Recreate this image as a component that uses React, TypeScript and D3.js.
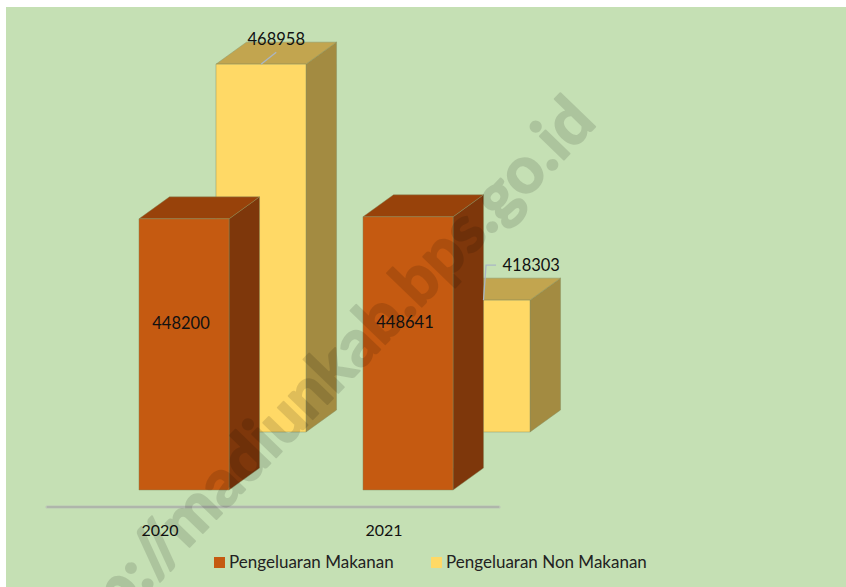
import React from 'react';
import * as d3 from 'd3';

// data
const years = ['2020', '2021'];
const seriesNames = ['Pengeluaran Makanan', 'Pengeluaran Non Makanan'];
const makanan = [448200, 448641];
const nonMakanan = [468958, 418303];
const seriesValues = [makanan, nonMakanan];
const watermark = 'http://madiunkab.bps.go.id';

const W = 846;
const H = 587;
const FONT = 'Lato, "Open Sans", sans-serif';

// 3d look
const depth = { dx: 30.5, dy: -22 };
const rowShift = { dx: 77, dy: -58 };

const palette = [
  { front: '#c55a11', top: '#98420a', side: '#7e370b' },
  { front: '#ffd966', top: '#c2a54f', side: '#a38b41' },
];

function App() {
  const x = d3.scaleBand<string>()
    .domain(years)
    .range([72, 520])
    .paddingInner(0.598)
    .paddingOuter(0.299);
  const row = d3.scalePoint<string>().domain(seriesNames).range([0, 1]);
  const y = d3.scaleLinear().domain([390000, 470000]).range([490, 490 - 372.7]);
  const bw = x.bandwidth();

  const poly = (pts: number[][]) => 'M' + pts.map(p => p.join(',')).join('L') + 'Z';

  // back row first so the front row covers it
  const order = seriesNames.map((_, i) => i).reverse();

  const bars = order.map(si => {
    const r = row(seriesNames[si]) as number;
    const c = palette[si];
    return (
      <g key={si}>
        {years.map((yr, j) => {
          const rx = (x(yr) as number) + r * rowShift.dx;
          const base = y(390000) + r * rowShift.dy;
          const top = y(seriesValues[si][j]) + r * rowShift.dy;
          const { dx, dy } = depth;
          return (
            <g key={yr} stroke="rgba(130,140,95,0.55)" strokeWidth={0.8} strokeLinejoin="round">
              <path d={poly([[rx + bw, top], [rx + bw + dx, top + dy], [rx + bw + dx, base + dy], [rx + bw, base]])} fill={c.side} />
              <path d={poly([[rx, top], [rx + dx, top + dy], [rx + bw + dx, top + dy], [rx + bw, top]])} fill={c.top} />
              <rect x={rx} y={top} width={bw} height={base - top} fill={c.front} />
            </g>
          );
        })}
      </g>
    );
  });

  // data labels
  const labels = years.flatMap((yr, j) => {
    const out: React.ReactNode[] = [];
    const x0 = x(yr) as number;
    // front series: inside bar
    const t0 = y(makanan[j]);
    out.push(
      <text key={'m' + yr} x={x0 + bw / 2 - 3} y={(t0 + y(390000) + rowShift.dy) / 2 + 4}
        textAnchor="middle" fontFamily={FONT} fontSize={16.5} fill="#111">
        {makanan[j]}
      </text>
    );
    // back series: above the top face with a leader
    const rx = x0 + rowShift.dx;
    const t1 = y(nonMakanan[j]) + rowShift.dy;
    const backTop = t1 + depth.dy;
    const hidden = t0 < t1;
    if (!hidden) {
      const cx = rx + bw / 2 + depth.dx / 2;
      out.push(
        <line key={'l' + yr} x1={rx + bw / 2} y1={t1} x2={cx} y2={backTop + 10} stroke="#aab6c4" strokeWidth={1.3} />,
        <text key={'n' + yr} x={cx} y={backTop + 3} textAnchor="middle" fontFamily={FONT} fontSize={16.5} fill="#111">
          {nonMakanan[j]}
        </text>
      );
    } else {
      const ex = x0 + bw + depth.dx;
      const ty = backTop - 7;
      out.push(
        <path key={'l' + yr} d={`M${ex},${t1}L${ex + 2.5},${ty - 6}L${ex + 12.5},${ty - 6}`} fill="none" stroke="#aab6c4" strokeWidth={1.3} />,
        <text key={'n' + yr} x={ex + 19} y={ty} fontFamily={FONT} fontSize={16.5} fill="#111">
          {nonMakanan[j]}
        </text>
      );
    }
    return out;
  });

  const [r0, r1] = x.range();
  const floorY = 507;

  const legendX = [214, 431];

  return (
    <svg width={W} height={H} style={{ position: 'absolute', left: 0, top: 0, background: '#fff' }}>
      <rect x={6} y={7} width={W - 6} height={H - 7} fill="#c5e0b4" />

      {/* floor / category axis */}
      <line x1={r0 - 25} x2={r1 - 21} y1={floorY} y2={floorY} stroke="#bcc5b6" strokeWidth={3.2} strokeLinecap="round" />
      <line x1={r0 - 25} x2={r1 - 21} y1={floorY} y2={floorY} stroke="#a2a7a0" strokeWidth={1} />

      {bars}
      {labels}

      {years.map(yr => (
        <text key={yr} x={(x(yr) as number) + bw / 2 - 24} y={536} textAnchor="middle"
          fontFamily={FONT} fontSize={16} fill="#111">
          {yr}
        </text>
      ))}

      {seriesNames.map((s, i) => (
        <g key={s} transform={`translate(${legendX[i]},557)`}>
          <rect width={11} height={11} fill={palette[i].front} />
          <text x={15} y={10.5} fontFamily={FONT} fontSize={17} fill="#222">{s}</text>
        </g>
      ))}

      {/* watermark */}
      <g opacity={0.12}>
        <text transform="translate(598,124) rotate(-46)" textAnchor="end" fontFamily={FONT}
          fontWeight="bold" fontSize={65} fill="#000" stroke="#000" strokeWidth={2} strokeLinejoin="round">
          {watermark}
        </text>
      </g>
    </svg>
  );
}

export default App;
